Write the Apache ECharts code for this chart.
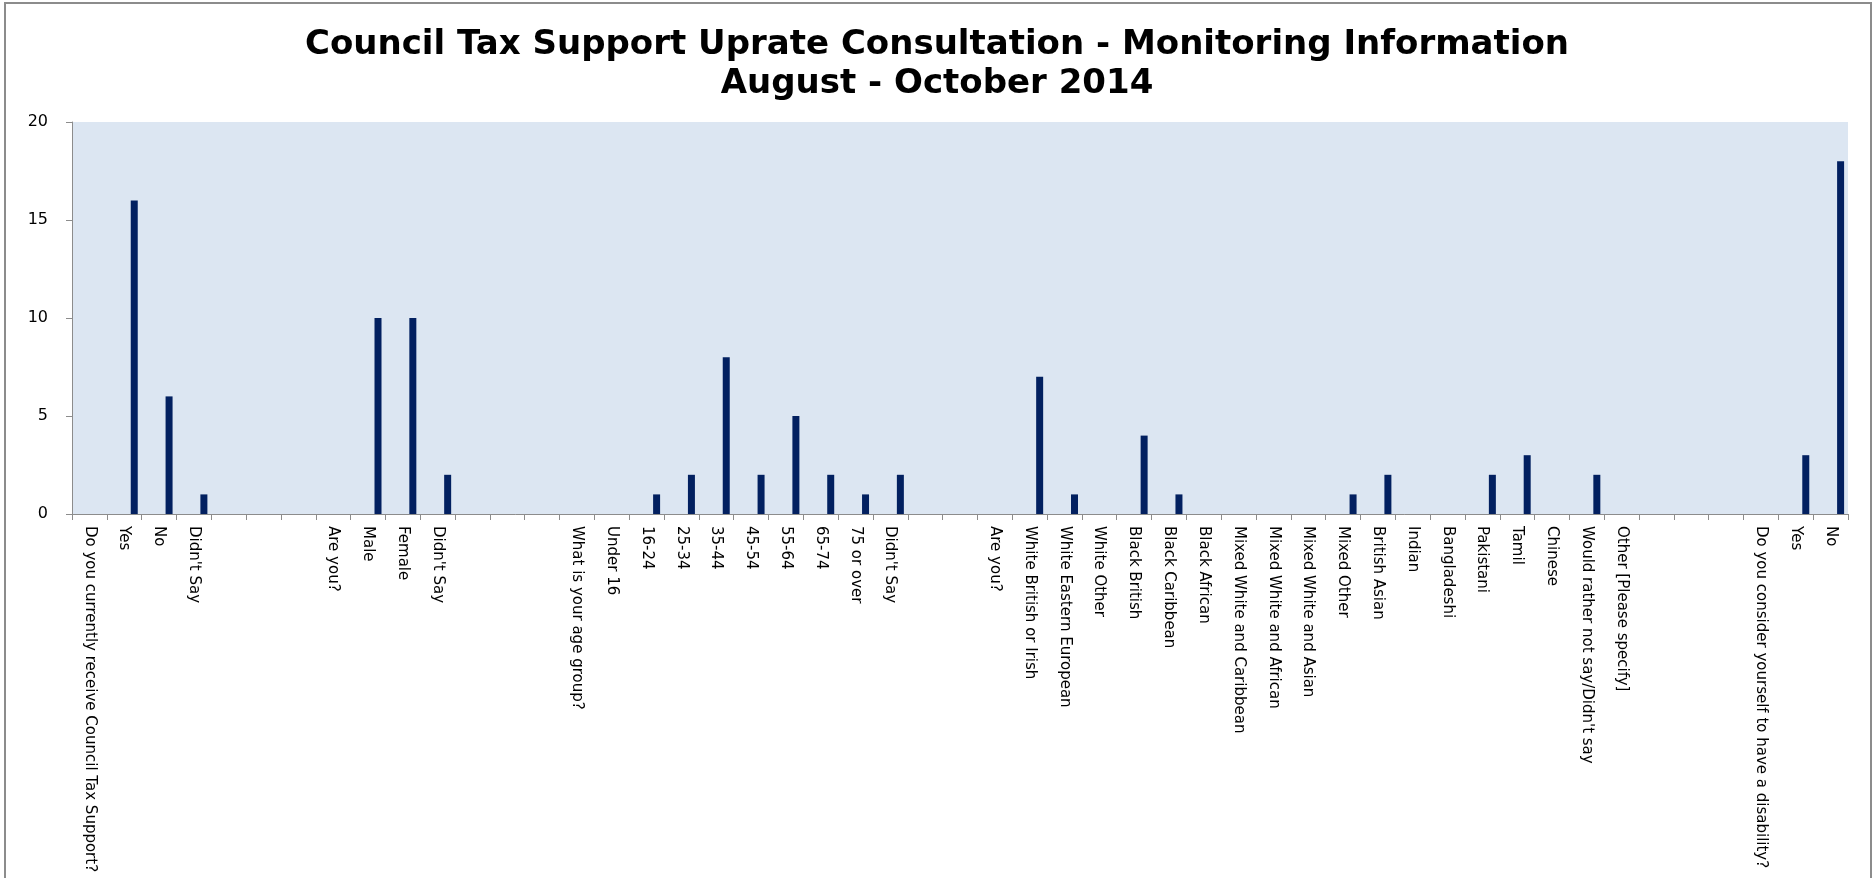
<!DOCTYPE html>
<html>
<head>
<meta charset="utf-8">
<script src="https://cdn.jsdelivr.net/npm/echarts@6/dist/echarts.min.js"></script>
<style>
  html, body { margin: 0; padding: 0; background: #fff; }
  #chart { position: absolute; left: 0; top: 0; width: 1874px; height: 878px; }
  #frame {
    position: absolute; left: 4px; top: 2px; width: 1864px; height: 890px;
    border: 2px solid #8c8c8c; pointer-events: none;
  }
</style>
</head>
<body>
<div id="chart"></div>
<div id="frame"></div>
<script>
// categories (blank entries are spacer columns between the question groups)
var categories = [
  'Do you currently receive Council Tax Support?', 'Yes', 'No', "Didn't Say", '', '', '',
  'Are you?', 'Male', 'Female', "Didn't Say", '', '', '',
  'What is your age group?', 'Under 16', '16-24', '25-34', '35-44', '45-54', '55-64', '65-74', '75 or over', "Didn't Say", '', '',
  'Are you?', 'White British or Irish', 'White Eastern European', 'White Other', 'Black British', 'Black Caribbean', 'Black African',
  'Mixed White and Caribbean', 'Mixed White and African', 'Mixed White and Asian', 'Mixed Other', 'British Asian', 'Indian',
  'Bangladeshi', 'Pakistani', 'Tamil', 'Chinese', "Would rather not say/Didn't say", 'Other [Please specify]', '', '', '',
  'Do you consider yourself to have a disability?', 'Yes', 'No'
]

// number of responses per category
var responses = [
  0, 16, 6, 1, 0, 0, 0,
  0, 10, 10, 2, 0, 0, 0,
  0, 0, 1, 2, 8, 2, 5, 2, 1, 2, 0, 0,
  0, 7, 1, 0, 4, 1, 0, 0, 0, 0, 1, 2, 0, 0, 2, 3, 0, 2, 0, 0, 0, 0,
  0, 3, 18
]

// empty first series of the original clustered chart (keeps bars offset to the right)
var emptySeries = categories.map(function() { return null })

var yMin = 0
var yMax = 20
var yStep = 5

var chart = echarts.init(document.getElementById('chart'))
var option = {
  backgroundColor: '#fff',
  animation: false,
  title: {
    text: 'Council Tax Support Uprate Consultation - Monitoring Information\nAugust - October 2014',
    left: 'center',
    top: 21,
    textStyle: {
      color: '#000',
      fontFamily: 'DejaVu Sans',
      fontWeight: 'bold',
      fontSize: 34,
      lineHeight: 39
    }
  },
  grid: {
    left: 72,
    right: 26,
    top: 122,
    bottom: 364,
    show: true,
    backgroundColor: '#dce6f2',
    borderWidth: 0,
    containLabel: false
  },
  xAxis: {
    type: 'category',
    data: categories,
    boundaryGap: true,
    axisLine: { lineStyle: { color: '#8c8c8c', width: 1 } },
    axisTick: { show: true, length: 6, interval: 0, lineStyle: { color: '#8c8c8c' } },
    axisLabel: {
      interval: 0,
      rotate: -90,
      margin: 12,
      color: '#000',
      fontFamily: 'DejaVu Sans',
      fontSize: 15
    },
    splitLine: { show: false }
  },
  yAxis: {
    type: 'value',
    min: yMin,
    max: yMax,
    interval: yStep,
    axisLine: { show: true, lineStyle: { color: '#8c8c8c', width: 1 } },
    axisTick: { show: true, length: 6, lineStyle: { color: '#8c8c8c' } },
    axisLabel: {
      margin: 24,
      color: '#000',
      fontFamily: 'DejaVu Sans',
      fontSize: 16
    },
    splitLine: { show: false }
  },
  series: [
    {
      name: 'blank',
      type: 'bar',
      data: emptySeries,
      barWidth: 7,
      barGap: '186%'
    },
    {
      name: 'Responses',
      type: 'bar',
      data: responses,
      barWidth: 7,
      barGap: '186%',
      itemStyle: { color: '#022060' }
    }
  ]
}
chart.setOption(option)
</script>
</body>
</html>
